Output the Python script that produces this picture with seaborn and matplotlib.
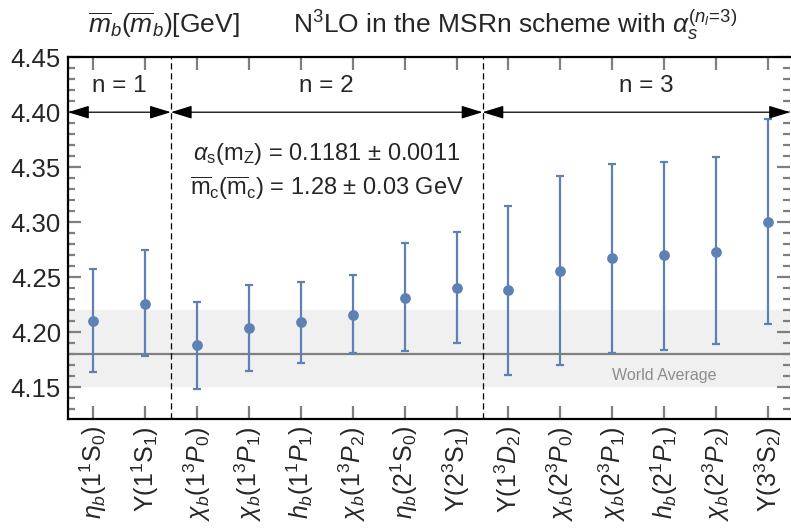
import numpy as np
import pandas as pd
import matplotlib
matplotlib.use("Agg")
import matplotlib.pyplot as plt
from matplotlib.patches import FancyArrowPatch
from matplotlib.ticker import MultipleLocator, FormatStrFormatter
import seaborn as sns

# Bottomonium states used to extract the MSbar bottom mass
states = [
    r"$\eta_b(1^1\mathrm{S}_0)$", r"$\Upsilon(1^1\mathrm{S}_1)$",
    r"$\chi_b(1^3P_0)$", r"$\chi_b(1^3P_1)$", r"$h_b(1^1P_1)$",
    r"$\chi_b(1^3P_2)$", r"$\eta_b(2^1\mathrm{S}_0)$", r"$\Upsilon(2^3\mathrm{S}_1)$",
    r"$\Upsilon(1^3D_2)$", r"$\chi_b(2^3P_0)$", r"$\chi_b(2^3P_1)$",
    r"$h_b(2^1P_1)$", r"$\chi_b(2^3P_2)$", r"$\Upsilon(3^3\mathrm{S}_2)$",
]
mb_central = [4.210, 4.226, 4.188, 4.204, 4.209, 4.216, 4.231, 4.240,
              4.238, 4.256, 4.267, 4.270, 4.273, 4.300]
mb_upper = [4.257, 4.275, 4.227, 4.243, 4.246, 4.252, 4.281, 4.291,
            4.315, 4.342, 4.353, 4.355, 4.359, 4.394]
mb_lower = [4.164, 4.178, 4.148, 4.165, 4.172, 4.181, 4.183, 4.190,
            4.161, 4.170, 4.181, 4.184, 4.189, 4.207]

world_avg = 4.18
world_band = (4.15, 4.22)
group_edges = [2.5, 8.5]
group_labels = ["n = 1", "n = 2", "n = 3"]

df = pd.DataFrame({
    "pos": np.arange(1, len(states) + 1),
    "state": states,
    "mb": mb_central,
    "hi": mb_upper,
    "lo": mb_lower,
})

sns.set_theme(style="white")
plt.rcParams["font.family"] = ["Liberation Sans", "DejaVu Sans"]
plt.rcParams["mathtext.fontset"] = "custom"
plt.rcParams["mathtext.rm"] = "Liberation Sans"
plt.rcParams["mathtext.it"] = "Liberation Sans:italic"
plt.rcParams["mathtext.bf"] = "Liberation Sans:bold"

blue = "#5E81B5"
tick_grey = "#7f7f7f"

fig = plt.figure(figsize=(7.91, 5.30), dpi=100)
ax = fig.add_axes([68 / 791, 1 - 419 / 530, 722 / 791, (419 - 57) / 530])

xlo, xhi = 0.52, 14.42
ax.set_xlim(xlo, xhi)
ax.set_ylim(4.121, 4.4502)

# world average band and line
ax.axhspan(*world_band, color="#f0f0f0", zorder=0, lw=0)
ax.axhline(world_avg, color="#808080", lw=1.6, zorder=1)
ax.text(12.0, 4.161, "World Average", color="#8c8c8c", fontsize=11.5,
        ha="center", va="center")

# error bars and central values
ax.errorbar(df["pos"], df["mb"],
            yerr=[df["mb"] - df["lo"], df["hi"] - df["mb"]],
            fmt="none", ecolor=blue, elinewidth=1.6, capsize=3.2,
            capthick=1.6, zorder=3)
sns.scatterplot(data=df, x="pos", y="mb", ax=ax, color=blue, s=60,
                edgecolor=blue, linewidth=0, zorder=4, legend=False)

# group separators
for e in group_edges:
    ax.axvline(e, color="black", lw=0.9, ls=(0, (5, 3)), zorder=2)

# group arrows and labels
bounds = [xlo] + group_edges + [xhi]
label_x = [1.5, 5.5, 11.65]
for i in range(3):
    arr = FancyArrowPatch((bounds[i], 4.40), (bounds[i + 1], 4.40),
                          arrowstyle="<|-|>,head_length=0.65,head_width=0.2",
                          mutation_scale=20, color="black", lw=0.9,
                          shrinkA=0, shrinkB=0, zorder=5)
    ax.add_patch(arr)
    ax.text(label_x[i], 4.4235, group_labels[i], fontsize=17.5,
            ha="center", va="center")

# input parameters
ax.text(5.5, 4.3617, r"$\alpha_\mathrm{s}(\mathrm{m_Z})$ = 0.1181 ± 0.0011",
        fontsize=17, ha="center", va="center")
ax.text(5.5, 4.331,
        r"$\overline{\mathrm{m}}_\mathrm{c}(\overline{\mathrm{m}}_\mathrm{c})$ = 1.28 ± 0.03 GeV",
        fontsize=17, ha="center", va="center")

# axes styling
ax.set_xticks(df["pos"])
ax.set_xticklabels(df["state"], rotation=90, fontsize=18)
ax.yaxis.set_major_locator(MultipleLocator(0.05))
ax.yaxis.set_minor_locator(MultipleLocator(0.01))
ax.yaxis.set_major_formatter(FormatStrFormatter("%.2f"))
ax.tick_params(axis="y", labelsize=18.5)
ax.tick_params(which="both", direction="in", color=tick_grey, width=1.6,
               top=True, right=True, bottom=True, left=True, pad=5)
ax.tick_params(which="major", length=9.5)
ax.tick_params(which="minor", length=5)
ax.tick_params(axis="x", which="minor", bottom=False, top=False)
ax.set_xlabel("")
ax.set_ylabel("")
for side in ["left", "bottom", "top"]:
    ax.spines[side].set_color("black")
    ax.spines[side].set_linewidth(1.6)
ax.spines["right"].set_visible(False)

# title
fig.text(88 / 791, 1 - 33 / 530, r"$\overline{m}_b(\overline{m}_b)$[GeV]",
         fontsize=19, ha="left", va="baseline")
fig.text(293 / 791, 1 - 33 / 530,
         r"N$^3$LO in the MSRn scheme with $\alpha_s^{(n_l\!=\!3)}$",
         fontsize=19, ha="left", va="baseline")

fig.savefig("out.png", dpi=100)
